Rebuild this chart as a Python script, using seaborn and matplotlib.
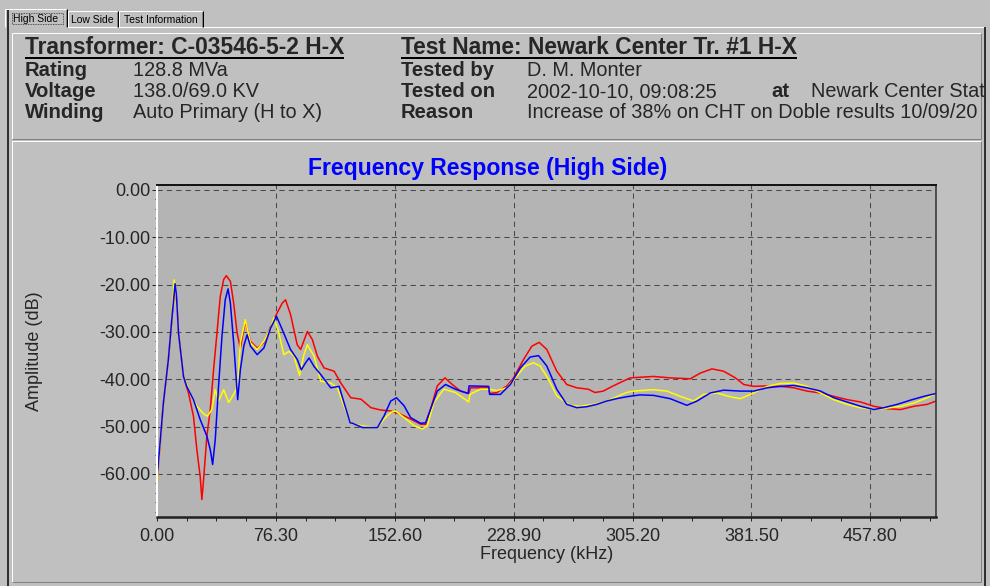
import matplotlib
matplotlib.use("Agg")
import matplotlib.pyplot as plt
import seaborn as sns
from matplotlib.patches import Rectangle
from matplotlib.ticker import FixedLocator, FixedFormatter, MultipleLocator

sns.set_style("white")
plt.rcParams['font.family'] = ['Liberation Sans', 'DejaVu Sans']

# ---------------- data ----------------
red_khz = [0.2, 4.1, 7.3, 9.5, 11.2, 12.4, 13.8, 17.0, 20.2, 23.4, 25.6, 27.7, 28.8, 29.9, 32.0, 34.2, 36.3, 38.5, 40.6, 42.8,
           44.5, 47.1, 49.2, 51.4, 53.5, 56.7, 60.0, 64.3, 68.6, 72.9, 77.1, 80.4, 82.5, 85.7, 90.0, 92.2, 96.5, 99.7, 102.9, 107.2,
           113.7, 118.0, 124.4, 130.9, 137.3, 143.6, 150.0, 156.4, 162.8, 169.2, 172.4, 175.6, 179.9, 184.8, 189.5, 194.8, 200.1, 201.2, 207.6, 212.9,
           213.5, 218.2, 224.6, 228.9, 235.3, 240.6, 245.3, 250.2, 256.6, 263.0, 269.4, 276.8, 281.1, 286.4, 292.8, 299.2, 303.7, 318.7, 329.4, 342.3,
           348.7, 356.2, 363.7, 371.2, 376.6, 383.0, 391.6, 400.1, 408.7, 417.3, 425.9, 434.4, 443.0, 451.6, 460.1, 468.6, 477.3, 485.9, 494.4, 500.0]
red_db = [-61.9, -45.0, -35.8, -27.4, -20.0, -22.5, -30.2, -39.4, -42.9, -47.8, -54.9, -60.5, -65.4, -61.2, -52.0, -46.4, -38.0, -30.2, -22.5, -18.9,
          -18.1, -19.3, -23.9, -30.2, -33.4, -27.7, -32.0, -33.4, -32.3, -28.9, -26.0, -23.9, -23.2, -26.3, -32.7, -33.7, -29.9, -31.6, -35.1, -37.6,
          -38.3, -40.8, -43.9, -44.2, -46.0, -46.5, -46.7, -47.4, -48.4, -49.5, -49.5, -46.3, -41.4, -39.7, -41.1, -42.5, -43.0, -41.8, -41.8, -41.8,
          -43.0, -42.8, -41.4, -39.7, -35.8, -33.0, -32.2, -33.7, -38.3, -41.1, -41.8, -42.1, -42.8, -42.5, -41.4, -40.4, -39.7, -39.4, -39.7, -39.9,
          -38.7, -37.8, -38.3, -39.7, -41.1, -41.5, -41.4, -41.5, -41.8, -42.5, -42.9, -43.6, -44.3, -44.8, -45.7, -46.2, -46.4, -45.7, -45.3, -44.6]

yellow_khz = [0.2, 4.1, 7.3, 9.5, 11.0, 11.8, 13.8, 17.0, 19.1, 21.3, 25.6, 29.9, 32.4, 35.2, 37.4, 39.5, 42.8, 46.0, 49.2, 51.8,
              53.5, 56.7, 60.0, 64.3, 68.6, 72.9, 75.0, 78.2, 81.4, 84.7, 87.9, 91.5, 94.3, 96.5, 100.8, 105.1, 111.5, 115.8, 120.1, 124.5,
              130.9, 141.5, 145.8, 150.0, 153.2, 158.6, 165.0, 170.3, 173.5, 177.7, 184.1, 191.6, 200.1, 200.8, 207.6, 212.9, 218.2, 224.6, 231.0, 236.3,
              241.7, 245.9, 251.3, 256.6, 265.1, 271.5, 280.0, 288.6, 301.3, 305.8, 318.7, 327.3, 335.8, 344.4, 350.8, 359.4, 368.0, 374.4, 383.0, 391.6,
              400.1, 408.7, 417.3, 425.9, 434.4, 443.0, 451.6, 460.1, 468.6, 477.3, 485.9, 494.4, 500.0]
yellow_db = [-61.9, -45.0, -35.8, -27.4, -19.0, -20.5, -30.2, -39.4, -41.1, -42.9, -45.7, -47.3, -47.8, -46.4, -42.2, -44.6, -42.2, -44.9, -43.2, -41.5,
             -32.3, -27.4, -32.3, -33.7, -32.0, -29.2, -27.0, -30.2, -34.8, -34.1, -35.1, -39.2, -34.8, -32.7, -35.1, -40.4, -40.8, -41.8, -45.7, -49.3,
             -49.8, -50.2, -48.4, -47.0, -46.7, -48.1, -49.8, -50.5, -49.8, -44.9, -42.1, -42.8, -44.8, -43.2, -42.1, -42.1, -42.4, -41.8, -39.3, -37.2,
             -36.5, -37.2, -40.0, -43.5, -45.5, -45.7, -45.3, -44.6, -42.8, -42.5, -42.2, -42.5, -43.6, -44.6, -43.2, -42.9, -43.7, -44.1, -42.9, -41.5,
             -40.9, -40.8, -41.5, -42.9, -44.3, -45.3, -46.0, -46.4, -46.1, -45.7, -45.0, -43.9, -43.0]

blue_khz = [0.2, 4.1, 7.3, 9.5, 11.6, 12.4, 13.8, 17.0, 19.1, 23.4, 27.7, 32.0, 34.2, 35.7, 37.4, 39.5, 41.7, 43.8, 45.6, 47.1,
            49.2, 51.8, 53.5, 55.7, 57.8, 60.0, 64.3, 68.6, 72.9, 76.7, 80.4, 85.7, 90.0, 92.6, 95.4, 97.6, 100.8, 105.1, 111.5, 116.9,
            120.1, 124.0, 125.5, 131.9, 141.5, 145.8, 150.0, 153.7, 158.6, 162.8, 169.2, 172.4, 175.6, 179.9, 185.2, 191.6, 199.7, 200.3, 212.9, 213.5,
            220.4, 226.8, 233.2, 239.5, 244.9, 250.2, 256.6, 263.0, 269.4, 275.8, 282.2, 288.6, 294.9, 301.3, 309.9, 318.7, 329.4, 340.1, 346.6, 355.1,
            363.7, 374.4, 383.0, 391.6, 400.1, 408.7, 417.3, 425.9, 434.4, 443.0, 451.6, 460.1, 466.6, 475.1, 483.7, 492.3, 500.0]
blue_db = [-60.5, -45.0, -35.8, -27.4, -19.8, -22.0, -30.2, -39.4, -41.5, -44.3, -48.5, -52.0, -54.9, -58.0, -52.7, -41.5, -30.9, -23.2, -20.9, -23.9,
           -32.3, -44.3, -38.0, -33.0, -30.6, -33.0, -34.8, -33.4, -29.2, -26.7, -29.5, -33.7, -35.8, -38.0, -36.5, -35.5, -37.3, -39.0, -41.8, -41.5,
           -45.0, -49.2, -49.3, -50.2, -50.2, -47.7, -44.6, -43.9, -45.6, -48.1, -49.3, -49.2, -46.3, -42.5, -41.1, -42.1, -43.0, -41.4, -41.5, -43.2,
           -43.2, -41.1, -37.6, -35.3, -35.0, -37.2, -42.1, -45.3, -46.0, -45.8, -45.3, -44.6, -44.1, -43.7, -43.3, -43.4, -44.1, -45.5, -44.6, -42.9,
           -42.3, -42.5, -42.5, -41.8, -41.5, -41.3, -41.8, -42.5, -43.9, -44.8, -45.7, -46.4, -46.0, -45.3, -44.4, -43.6, -43.0]

x_ticks = [0.0, 76.3, 152.6, 228.9, 305.2, 381.5, 457.8]
x_tick_labels = ["0.00", "76.30", "152.60", "228.90", "305.20", "381.50", "457.80"]
y_ticks = [0, -10, -20, -30, -40, -50, -60]
y_tick_labels = ["0.00", "-10.00", "-20.00", "-30.00", "-40.00", "-50.00", "-60.00"]

tab_names = ["High Side", "Low Side", "Test Information"]
left_fields = ["Rating", "Voltage", "Winding"]
left_values = ["128.8 MVa", "138.0/69.0 KV", "Auto Primary (H to X)"]
right_fields = ["Tested by", "Tested on", "Reason"]
right_values = ["D. M. Monter", "2002-10-10, 09:08:25",
                "Increase of 38% on CHT on Doble results 10/09/20"]
location_text = "Newark Center Stat"

# ---------------- figure ----------------
W, H = 990, 586
BG = '#C0C0C0'
fig = plt.figure(figsize=(W / 100, H / 100), dpi=100, facecolor=BG)

bg = fig.add_axes([0, 0, 1, 1])
bg.set_xlim(0, W)
bg.set_ylim(H, 0)
bg.axis('off')

def hl(x0, x1, y, c, lw=1.0):
    bg.plot([x0, x1], [y, y], color=c, lw=lw * 0.72, solid_capstyle='butt')

def vl(x, y0, y1, c, lw=1.0):
    bg.plot([x, x], [y0, y1], color=c, lw=lw * 0.72, solid_capstyle='butt')

WHITE, DARK, BLACK = '#FFFFFF', '#808080', '#000000'

# tab page outline
hl(66, 985, 27, WHITE)
vl(7.5, 9, 586, BLACK, 1.5)
vl(985, 27, 586, BLACK, 1.5)

# tabs
tabs = [(4, 67, 9), (67, 118, 11), (118, 203, 11)]
for (x0, x1, y0), name in zip(tabs, tab_names):
    bg.add_patch(Rectangle((x0, y0), x1 - x0, 27 - y0, facecolor=BG, edgecolor='none'))
    hl(x0 + 1, x1 - 1, y0, WHITE)
    vl(x0 + 0.5, y0, 27, WHITE)
    vl(x1 - 0.5, y0, 27, BLACK)
    vl(x1 - 1.5, y0 + 1, 27, DARK)
    bg.text((x0 + x1) / 2, (y0 + 27) / 2 + 1, name, ha='center', va='center',
            fontsize=7.5, family=['Liberation Sans Narrow', 'Liberation Sans'], color='black')
bg.add_patch(Rectangle((11.5, 12.5), 51.5, 11.5, fill=False, edgecolor='#303030',
                       lw=0.6, linestyle=(0, (1, 1))))

# header panel
hl(12, 981, 33, WHITE)
vl(12, 33, 139, WHITE)
hl(12, 981, 139, DARK)
vl(981, 33, 139, DARK)
# chart panel
hl(12, 981, 141, WHITE)
vl(12, 141, 582, WHITE)
hl(12, 981, 582, DARK)
vl(981, 141, 582, DARK)

# header text
HEAD_FS, BOLD_FS, REG_FS = 16.4, 14.6, 14.3
t1 = bg.text(25, 54, "Transformer: C-03546-5-2 H-X", fontsize=HEAD_FS, fontweight='bold', va='baseline')
t2 = bg.text(401, 54, "Test Name: Newark Center Tr. #1 H-X", fontsize=HEAD_FS, fontweight='bold', va='baseline')
rows_y = [76, 97, 118]
for y, f, v in zip(rows_y, left_fields, left_values):
    bg.text(25, y, f, fontsize=BOLD_FS, fontweight='bold', va='baseline')
    bg.text(133, y, v, fontsize=REG_FS, va='baseline')
for y, f, v in zip(rows_y, right_fields, right_values):
    bg.text(401, y, f, fontsize=BOLD_FS, fontweight='bold', va='baseline')
    bg.text(527, y, v, fontsize=REG_FS, va='baseline')
bg.text(771, rows_y[1], "at", fontsize=BOLD_FS, fontweight='bold', va='baseline')
bg.text(811, rows_y[1], location_text, fontsize=REG_FS, va='baseline')

# chart title
bg.text(488, 168, "Frequency Response (High Side)", fontsize=16.6, fontweight='bold',
        color='#0000FF', ha='center', va='center')

# ---------------- plot ----------------
L, R, T, B = 157, 936, 185, 517
ax = fig.add_axes([L / W, (H - B) / H, (R - L) / W, (B - T) / H])
ax.set_facecolor('#B4B4B4')

sns.lineplot(x=red_khz, y=red_db, color='#FF0000', lw=1.1, ax=ax, sort=False, estimator=None)
sns.lineplot(x=yellow_khz, y=yellow_db, color='#FFFF00', lw=1.1, ax=ax, sort=False, estimator=None)
sns.lineplot(x=blue_khz, y=blue_db, color='#0000FF', lw=1.1, ax=ax, sort=False, estimator=None)

ax.set_xlim(0, 500)
ax.set_ylim(-69.1, 1.05)

ax.xaxis.set_major_locator(FixedLocator(x_ticks))
ax.xaxis.set_major_formatter(FixedFormatter(x_tick_labels))
ax.yaxis.set_major_locator(FixedLocator(y_ticks))
ax.yaxis.set_major_formatter(FixedFormatter(y_tick_labels))
ax.xaxis.set_minor_locator(MultipleLocator(76.3 / 4))
ax.yaxis.set_minor_locator(MultipleLocator(2))

ax.grid(True, which='major', color='#4A4A4A', linestyle=(0, (5, 4)), linewidth=0.75)
ax.set_axisbelow(True)

ax.tick_params(axis='x', which='both', direction='out', length=3, width=0.7, color='#202020',
               labelsize=13, pad=5, bottom=True)
ax.tick_params(axis='y', which='major', direction='out', length=3.5, width=0.7, color='#202020',
               labelsize=13, pad=1.5, left=True)
ax.tick_params(axis='y', which='minor', direction='out', length=1.5, width=0.7, color='#202020', left=True)

for s in ['top', 'right', 'bottom', 'left']:
    ax.spines[s].set_visible(True)
ax.spines['left'].set_color('white')
ax.spines['left'].set_linewidth(1.5)
ax.spines['bottom'].set_color('#202020')
ax.spines['bottom'].set_linewidth(1.8)
ax.spines['top'].set_color('#101010')
ax.spines['top'].set_linewidth(1.4)
ax.spines['right'].set_color('#303030')
ax.spines['right'].set_linewidth(1.1)

ax.set_xlabel("Frequency (kHz)", fontsize=13)
ax.set_ylabel("Amplitude (dB)", fontsize=13)
ax.xaxis.set_label_coords(0.5, (B - 546) / (B - T))
ax.yaxis.set_label_coords((43 - L) / (R - L), 0.5)

# underline the two header titles
fig.canvas.draw()
rend = fig.canvas.get_renderer()
for t in (t1, t2):
    bb = t.get_window_extent(rend)
    hl(bb.x0, bb.x1, 57.5, 'black', 2)

fig.savefig("out.png", dpi=100, facecolor=BG)
